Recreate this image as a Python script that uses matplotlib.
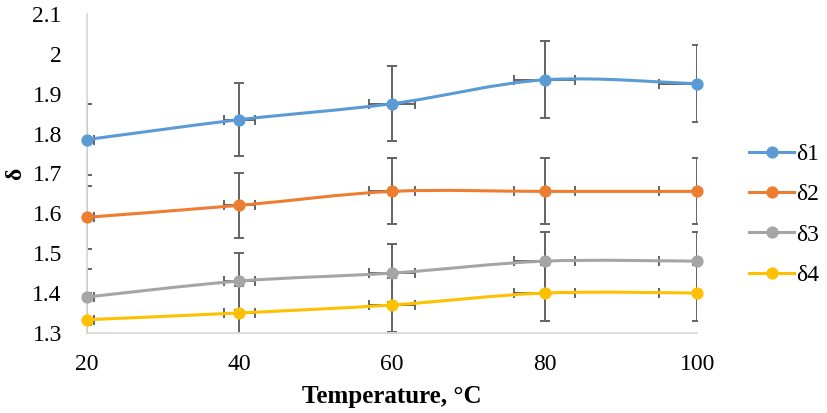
import matplotlib
matplotlib.use("Agg")
import matplotlib.pyplot as plt
from matplotlib.path import Path
from matplotlib.patches import PathPatch
from matplotlib.lines import Line2D

temps = [20, 40, 60, 80, 100]
d1 = [1.785, 1.835, 1.875, 1.935, 1.925]
d2 = [1.59, 1.62, 1.655, 1.655, 1.655]
d3 = [1.39, 1.43, 1.45, 1.48, 1.48]
d4 = [1.333, 1.35, 1.37, 1.40, 1.40]
names = ["δ1", "δ2", "δ3", "δ4"]
colors = ["#5B9BD5", "#ED7D31", "#A5A5A5", "#FFC000"]
err_pct = 0.05

plt.rcParams['font.family'] = ['Liberation Serif', 'DejaVu Serif']


def smooth_path(x, y, t=1/6):
    # excel-like smoothed line: cubic bezier through every point
    n = len(x)
    verts = [(x[0], y[0])]
    codes = [Path.MOVETO]
    for i in range(n - 1):
        a = max(i - 1, 0)
        b = min(i + 2, n - 1)
        c1 = (x[i] + (x[i+1] - x[a]) * t, y[i] + (y[i+1] - y[a]) * t)
        c2 = (x[i+1] - (x[b] - x[i]) * t, y[i+1] - (y[b] - y[i]) * t)
        verts += [c1, c2, (x[i+1], y[i+1])]
        codes += [Path.CURVE4] * 3
    return Path(verts, codes)


fig = plt.figure(figsize=(8.27, 4.13), dpi=100)
ax = fig.add_axes([0.105, 0.194, 0.738, 0.772])

handles = []
for vals, name, c in zip([d1, d2, d3, d4], names, colors):
    ax.errorbar(temps, vals,
                yerr=[v * err_pct for v in vals],
                xerr=[t * err_pct for t in temps],
                fmt='none', ecolor='#636363', elinewidth=1.4,
                capsize=3.6, capthick=1.4, zorder=2)
    ax.add_patch(PathPatch(smooth_path(temps, vals), fill=False,
                           edgecolor=c, lw=2.2, zorder=3))
    ax.plot(temps, vals, 'o', color=c, markersize=7.8, zorder=4, clip_on=False)
    handles.append(Line2D([], [], color=c, lw=2.2, marker='o', markersize=7.8))

ax.set_xlim(20, 100)
ax.set_ylim(1.3, 2.1)
ax.set_xticks(temps)
ax.set_yticks([1.3, 1.4, 1.5, 1.6, 1.7, 1.8, 1.9, 2.0, 2.1])
ax.set_yticklabels(["1.3", "1.4", "1.5", "1.6", "1.7", "1.8", "1.9", "2", "2.1"])
ax.tick_params(axis='both', length=0, labelsize=17)
ax.tick_params(axis='y', pad=18)
ax.tick_params(axis='x', pad=15)

for s in ['top', 'right']:
    ax.spines[s].set_visible(False)
for s in ['left', 'bottom']:
    ax.spines[s].set_color('#d9d9d9')
    ax.spines[s].set_linewidth(1.3)

ax.set_xlabel("Temperature, °C", fontsize=18, fontweight='bold')
ax.xaxis.set_label_coords(0.5, -0.165)
ax.set_ylabel("δ", fontsize=17, fontweight='bold')
ax.yaxis.set_label_coords(-0.1, 0.5)

fig.legend(handles, names, loc='center left', bbox_to_anchor=(0.906, 0.48),
           bbox_transform=fig.transFigure, frameon=False, fontsize=17,
           handlelength=1.9, handletextpad=0.1, labelspacing=0.79,
           borderpad=0, borderaxespad=0)

fig.savefig("out.png", dpi=100)
